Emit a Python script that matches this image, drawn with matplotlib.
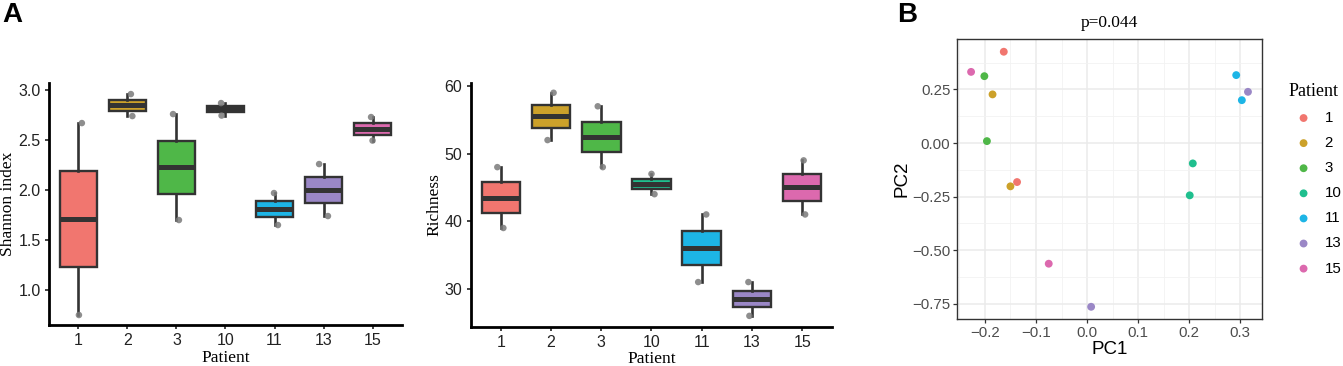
import matplotlib
matplotlib.use('Agg')
import matplotlib.pyplot as plt
from matplotlib.ticker import MultipleLocator
import numpy as np

# dati
patients = ["1", "2", "3", "10", "11", "13", "15"]
colors = ["#F1766F", "#CCA12A", "#4FB748", "#1FBF8E", "#1DB5E6", "#9A87C6", "#DC69AE"]

# due campioni per paziente
shannon = [[2.67, 0.75], [2.96, 2.74], [2.76, 1.70], [2.87, 2.745],
           [1.97, 1.65], [2.26, 1.74], [2.73, 2.495]]
richness = [[48, 39], [59, 52], [57, 48], [47, 44], [41, 31], [31, 26], [49, 41]]

# PCA
pca_patient = ["1", "1", "2", "2", "3", "3", "10", "10", "11", "11", "13", "13", "15", "15"]
pc1 = [-0.163, -0.137, -0.185, -0.150, -0.201, -0.196, 0.207, 0.201, 0.292, 0.303, 0.315, 0.008, -0.227, -0.075]
pc2 = [0.426, -0.182, 0.227, -0.202, 0.312, 0.009, -0.095, -0.244, 0.317, 0.200, 0.239, -0.764, 0.332, -0.563]

# jitter orizzontale dei punti (stile)
jit_sh = [[0.07, 0.01], [0.07, 0.10], [-0.07, 0.05], [-0.09, -0.08], [-0.01, 0.07], [-0.09, 0.09], [-0.03, 0.0]]
jit_ri = [[-0.07, 0.05], [0.05, -0.07], [-0.07, 0.03], [0.0, 0.06], [0.09, -0.07], [-0.07, -0.05], [0.03, 0.06]]

SANS = "Liberation Sans"
SERIF = "Liberation Serif"
plt.rcParams['font.family'] = SANS

fig = plt.figure(figsize=(13.43, 3.66), dpi=100)


def box_panel(ax, data, jit, ylabel, ylim, yticks):
    x = np.arange(len(patients))
    bp = ax.boxplot(data, positions=x, widths=0.77, whis=(0, 100), patch_artist=True,
                    showcaps=False, showfliers=False,
                    boxprops=dict(edgecolor="#333333", linewidth=1.7),
                    medianprops=dict(color="#333333", linewidth=3.6, solid_capstyle='butt'),
                    whiskerprops=dict(color="#333333", linewidth=1.9))
    for patch, c in zip(bp['boxes'], colors):
        patch.set_facecolor(c)
    for i, vals in enumerate(data):
        ax.scatter(x[i] + np.array(jit[i]), vals, s=22, color="#7A7A7A", alpha=0.85,
                   edgecolors='none', zorder=5)
    ax.set_xlim(-0.6, len(patients) - 0.4)
    ax.set_ylim(*ylim)
    ax.set_yticks(yticks)
    ax.set_xticks(x)
    ax.set_xticklabels(patients)
    for s in ['top', 'right']:
        ax.spines[s].set_visible(False)
    for s in ['left', 'bottom']:
        ax.spines[s].set_linewidth(2.0)
        ax.spines[s].set_color("black")
    ax.tick_params(axis='both', length=3, width=1.2, labelsize=11.5, colors="#222222", pad=3)
    ax.tick_params(axis='x', pad=3)
    ax.set_xlabel("Patient", family=SERIF, fontsize=12.5, labelpad=1)
    ax.set_ylabel(ylabel, family=SERIF, fontsize=12.5, labelpad=1.5)


ax1 = fig.add_axes([0.0365, 0.112, 0.2628, 0.661])
box_panel(ax1, shannon, jit_sh, "Shannon index", (0.65, 3.07), [1.0, 1.5, 2.0, 2.5, 3.0])

ax2 = fig.add_axes([0.3505, 0.1074, 0.2692, 0.665])
box_panel(ax2, richness, jit_ri, "Richness", (24.4, 60.4), [30, 40, 50, 60])

# pannello B
ax3 = fig.add_axes([0.7128, 0.1284, 0.2269, 0.7642])
for p, c in zip(patients, colors):
    idx = [i for i, q in enumerate(pca_patient) if q == p]
    ax3.scatter([pc1[i] for i in idx], [pc2[i] for i in idx], s=32, color=c,
                edgecolors='none', label=p, zorder=3)
ax3.set_xlim(-0.254, 0.3425)
ax3.set_ylim(-0.821, 0.484)
ax3.xaxis.set_minor_locator(MultipleLocator(0.05))
ax3.set_yticks([-0.75, -0.5, -0.25, 0.0, 0.25])
ax3.set_yticklabels(["\u22120.75", "\u22120.50", "\u22120.25", "0.00", "0.25"])
ax3.set_xticks([-0.2, -0.1, 0.0, 0.1, 0.2, 0.3])
ax3.set_xticklabels(["\u22120.2", "\u22120.1", "0.0", "0.1", "0.2", "0.3"])
ax3.yaxis.set_minor_locator(MultipleLocator(0.125))
ax3.grid(which='major', color="#EBEBEB", linewidth=1.1)
ax3.grid(which='minor', color="#F2F2F2", linewidth=0.6)
ax3.set_axisbelow(True)
for s in ax3.spines.values():
    s.set_color("#333333")
    s.set_linewidth(1.0)
ax3.tick_params(which='major', length=3, width=0.9, color="#333333", labelsize=10.8,
                labelcolor="#4D4D4D", pad=2)
ax3.tick_params(which='minor', length=0)
ax3.set_xlabel("PC1", fontsize=13.5, labelpad=1)
ax3.set_ylabel("PC2", fontsize=13.5, labelpad=1)
ax3.set_title("p=0.044", family=SERIF, fontsize=12.5, pad=9)

leg = fig.legend(loc='upper left', bbox_to_anchor=(0.955, 0.79), frameon=False,
                 title="Patient", fontsize=10.8, handletextpad=0.4, labelspacing=0.74,
                 markerscale=1.0, borderaxespad=0)
leg.get_title().set_family(SERIF)
leg.get_title().set_fontsize(13)
leg._legend_box.align = "left"

fig.text(0.002, 0.995, "A", fontsize=20, fontweight='bold', va='top', ha='left')
fig.text(0.668, 0.995, "B", fontsize=20, fontweight='bold', va='top', ha='left')

fig.savefig("out.png", dpi=100)
